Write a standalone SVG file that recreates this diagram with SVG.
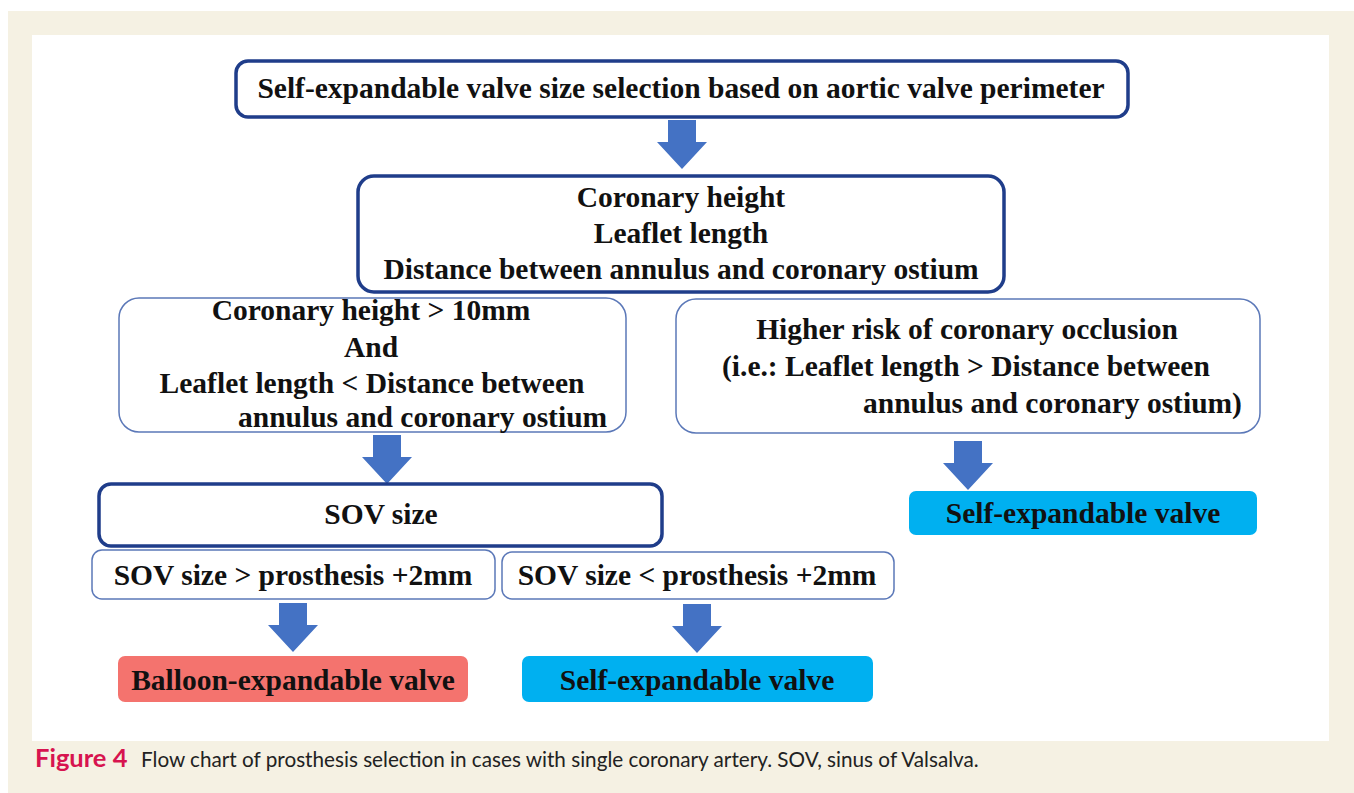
<svg xmlns="http://www.w3.org/2000/svg" width="1354" height="793" viewBox="0 0 1354 793">
<defs>
<style>
.t{font-family:"Liberation Serif","Times New Roman",serif;font-weight:bold;font-size:29.5px;fill:#111;}
.c{text-anchor:middle;}
.thick{fill:#fff;stroke:#1f3d8a;stroke-width:3.5;}
.thin{fill:#fff;stroke:#5b78b8;stroke-width:1.5;}
.arr{fill:#4472c4;}
.cap{font-family:"Lato","Open Sans",sans-serif;font-size:20.7px;fill:#222;}
</style>
<path id="ar" d="M-14,0 H14 V22 H25 L0,49 L-25,22 H-14 Z"/>
</defs>
<rect x="0" y="0" width="1354" height="793" fill="#fff"/>
<rect x="8" y="11" width="1346" height="782" fill="#f5f1e3"/>
<rect x="32" y="35" width="1297" height="706" fill="#fff"/>

<g id="connectors" class="arr">
<use href="#ar" x="682" y="120"/>
<use href="#ar" x="387" y="435"/>
<use href="#ar" x="968" y="441"/>
<use href="#ar" x="293" y="603"/>
<use href="#ar" x="697" y="604"/>
</g>

<g id="n1"><rect class="thick" x="236" y="61" width="892" height="56" rx="12"/>
<text class="t c" x="681" y="98">Self-expandable valve size selection based on aortic valve perimeter</text></g>

<g id="n2"><rect class="thick" x="358" y="176" width="646" height="116" rx="16"/>
<text class="t c" x="681" y="207">Coronary height</text>
<text class="t c" x="681" y="243">Leaflet length</text>
<text class="t c" x="681" y="279">Distance between annulus and coronary ostium</text></g>

<g id="n3"><rect class="thin" x="119" y="298" width="507" height="134" rx="20"/>
<text class="t c" x="371" y="320">Coronary height &gt; 10mm</text>
<text class="t c" x="371" y="357">And</text>
<text class="t c" x="372" y="393">Leaflet length &lt; Distance between</text>
<text class="t" x="238" y="427">annulus and coronary ostium</text></g>

<g id="n4"><rect class="thin" x="676" y="299" width="584" height="134" rx="20"/>
<text class="t c" x="967" y="339">Higher risk of coronary occlusion</text>
<text class="t" x="722" y="376">(i.e.: Leaflet length &gt; Distance between</text>
<text class="t" x="863" y="413">annulus and coronary ostium)</text></g>

<g id="n5"><rect class="thick" x="99" y="484" width="563" height="62" rx="12"/>
<text class="t c" x="381" y="524">SOV size</text></g>

<g id="n6"><rect class="thin" x="92" y="550" width="403" height="49" rx="10"/>
<text class="t c" x="293" y="585">SOV size &gt; prosthesis +2mm</text></g>

<g id="n7"><rect class="thin" x="502" y="552" width="392" height="47" rx="10"/>
<text class="t c" x="697" y="585">SOV size &lt; prosthesis +2mm</text></g>

<g id="n8"><rect x="118" y="656" width="350" height="46" rx="7" fill="#f4736e"/>
<text class="t c" x="293" y="690">Balloon-expandable valve</text></g>

<g id="n9"><rect x="522" y="656" width="351" height="46" rx="7" fill="#00b0f0"/>
<text class="t c" x="697" y="690">Self-expandable valve</text></g>

<g id="n10"><rect x="909" y="491" width="348" height="44" rx="7" fill="#00b0f0"/>
<text class="t c" x="1083" y="523">Self-expandable valve</text></g>

<text x="35" y="767" font-family="Lato,'Open Sans',sans-serif" font-weight="bold" font-size="25.5" fill="#d7144f">Figure 4</text>
<text class="cap" x="141" y="767">Flow chart of prosthesis selection in cases with single coronary artery. SOV, sinus of Valsalva.</text>
</svg>
